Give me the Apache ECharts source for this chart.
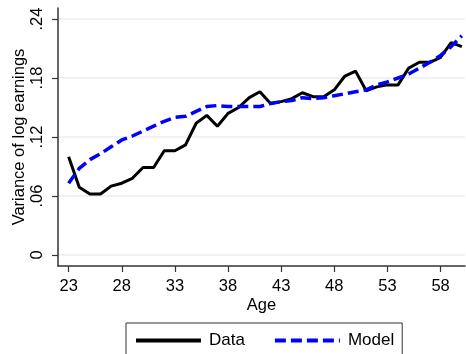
<!DOCTYPE html>
<html>
<head>
<meta charset="utf-8">
<script src="https://cdn.jsdelivr.net/npm/echarts@6/dist/echarts.min.js"></script>
<style>html,body{margin:0;padding:0;background:#fff;}#c{width:466px;height:354px;}</style>
</head>
<body>
<div id="c"></div>
<script>
var ages = [23,24,25,26,27,28,29,30,31,32,33,34,35,36,37,38,39,40,41,42,43,44,45,46,47,48,49,50,51,52,53,54,55,56,57,58,59,60];
var dataVar = [0.100,0.069,0.062,0.062,0.070,0.073,0.078,0.089,0.089,0.106,0.106,0.112,0.134,0.142,0.131,0.144,0.150,0.160,0.166,0.154,0.156,0.159,0.165,0.161,0.161,0.168,0.182,0.187,0.167,0.171,0.173,0.173,0.190,0.196,0.196,0.201,0.216,0.212];
var modelVar = [0.073,0.088,0.097,0.103,0.110,0.117,0.121,0.126,0.131,0.136,0.140,0.141,0.146,0.151,0.152,0.151,0.151,0.151,0.151,0.154,0.156,0.157,0.160,0.159,0.160,0.162,0.164,0.166,0.168,0.173,0.176,0.180,0.184,0.190,0.196,0.203,0.212,0.223];
var xTicks = [23,28,33,38,43,48,53,58];
var yTicks = [0,0.06,0.12,0.18,0.24];
var yTickLabels = ['0','.06','.12','.18','.24'];

function pairs(xs, ys){ return xs.map(function(x,i){return [x, ys[i]];}); }

var font = "'Liberation Sans', Arial, sans-serif";
var chart = echarts.init(document.getElementById('c'), null, {renderer:'canvas'});
chart.setOption({
  backgroundColor:'#fff',
  animation:false,
  grid:{left:58, right:1, top:8, bottom:88, containLabel:false, outerBoundsMode:'none'},
  xAxis:{
    type:'value', min:22, max:60.3,
    name:'Age', nameLocation:'middle', nameGap:31, nameMoveOverlap:false,
    nameTextStyle:{fontFamily:font, fontSize:16.5, color:'#000'},
    axisLine:{show:true, onZero:false, lineStyle:{color:'#333', width:1.5}},
    axisTick:{show:true, length:6, customValues:xTicks, lineStyle:{color:'#333', width:1.2}},
    axisLabel:{customValues:xTicks, fontFamily:font, fontSize:16.5, color:'#000', margin:12},
    splitLine:{show:false}
  },
  yAxis:{
    type:'value', min:-0.0112, max:0.2512,
    name:'Variance of log earnings', nameLocation:'middle', nameGap:30, nameRotate:90, nameMoveOverlap:false,
    nameTextStyle:{fontFamily:font, fontSize:16.5, color:'#000'},
    axisLine:{show:true, onZero:false, lineStyle:{color:'#333', width:1.5}},
    axisTick:{show:true, length:6, customValues:yTicks, lineStyle:{color:'#333', width:1.2}},
    axisLabel:{customValues:yTicks, rotate:90, fontFamily:font, fontSize:16.5, color:'#000', margin:12,
      formatter:function(v){ var i = yTicks.findIndex(function(t){return Math.abs(t-v)<1e-9;}); return i>=0?yTickLabels[i]:''; }},
    splitLine:{show:true, lineStyle:{color:'#e8eeee', width:1.5}}
  },
  legend:{
    left:126, top:323,
    padding:[9,8,12,8],
    borderColor:'#333', borderWidth:1,
    itemWidth:65, itemHeight:20, itemGap:28,
    itemStyle:{opacity:0},
    textStyle:{fontFamily:font, fontSize:17, color:'#000', padding:[0,0,0,3]},
    data:[
      {name:'Data', lineStyle:{width:4}},
      {name:'Model', lineStyle:{width:4}}
    ]
  },
  series:[
    {name:'Data', type:'line', data:pairs(ages,dataVar), symbol:'none', showSymbol:false,
     lineStyle:{color:'#000', width:3}, itemStyle:{color:'#000'}, z:3},
    {name:'Model', type:'line', data:pairs(ages,modelVar), symbol:'none', showSymbol:false,
     lineStyle:{color:'#0000ff', width:3.5, type:[11,5]}, itemStyle:{color:'#0000ff'}, z:4}
  ]
});
</script>
</body>
</html>
